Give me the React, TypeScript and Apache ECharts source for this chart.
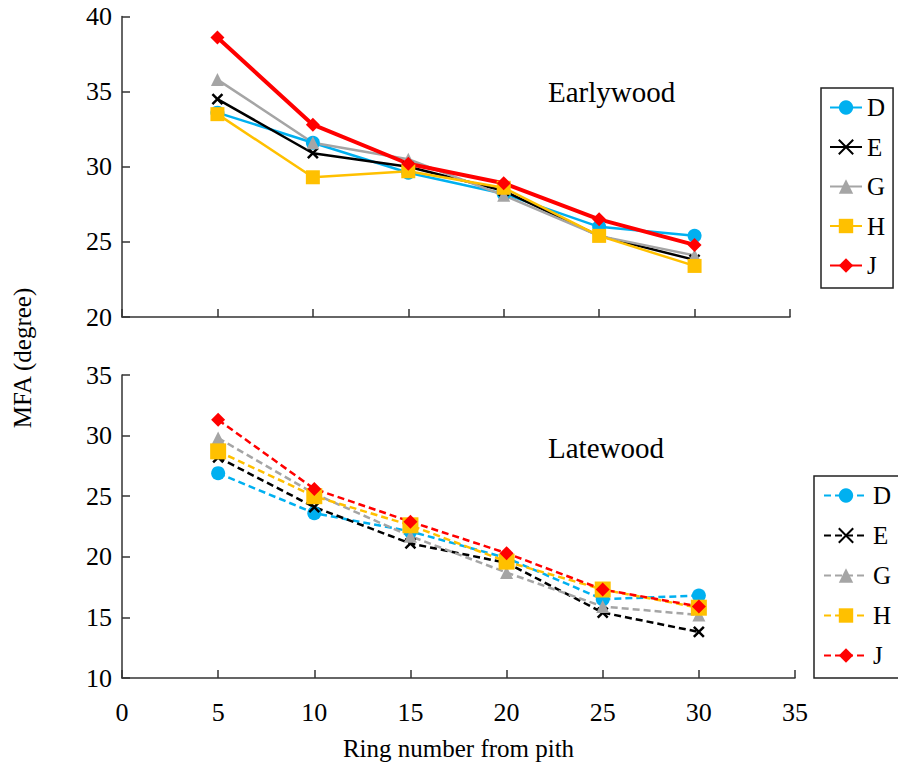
import React, { useEffect, useRef } from "react";
import * as echarts from "echarts";

const ringNumbers = [5, 10, 15, 20, 25, 30];
const seriesNames = ["D", "E", "G", "H", "J"];

const earlyD = [33.6, 31.6, 29.6, 28.2, 26.0, 25.4];
const earlyE = [34.5, 30.9, 30.0, 28.4, 25.4, 23.8];
const earlyG = [35.8, 31.6, 30.5, 28.1, 25.4, 24.1];
const earlyH = [33.5, 29.3, 29.7, 28.6, 25.4, 23.4];
const earlyJ = [38.6, 32.8, 30.2, 28.9, 26.5, 24.8];

const lateD = [26.9, 23.6, 22.1, 19.9, 16.5, 16.8];
const lateE = [28.2, 24.1, 21.1, 19.5, 15.4, 13.8];
const lateG = [29.8, 25.2, 21.7, 18.7, 15.9, 15.2];
const lateH = [28.7, 25.0, 22.6, 19.6, 17.3, 15.8];
const lateJ = [31.3, 25.6, 22.9, 20.3, 17.3, 15.9];

const FONT = "'Liberation Serif', 'Times New Roman', serif";
const colors: Record<string, string> = {
  D: "#00B0F0",
  E: "#000000",
  G: "#A5A5A5",
  H: "#FFC000",
  J: "#FF0000",
};
const symbols: Record<string, string> = {
  D: "circle",
  E: "path://M0,0L10,10M10,0L0,10",
  G: "triangle",
  H: "rect",
  J: "diamond",
};
const symbolSizes: Record<string, number> = { D: 14, E: 10, G: 13, H: 14, J: 14 };

export default function App() {
  const ref = useRef<HTMLDivElement>(null);
  useEffect(() => {
    if (!ref.current) return;
    const chart = echarts.init(ref.current, undefined, { renderer: "svg" });
    const early = [earlyD, earlyE, earlyG, earlyH, earlyJ];
    const late = [lateD, lateE, lateG, lateH, lateJ];

    const mk = (name: string, vals: number[], gi: number, dashed: boolean) => {
      const c = colors[name];
      const isE = name === "E";
      return {
        type: "line",
        name: dashed ? name + " " : name,
        xAxisIndex: gi,
        yAxisIndex: gi,
        data: ringNumbers.map((x, i) => [x, vals[i]]),
        symbol: symbols[name],
        symbolSize: dashed && name === "H" ? 16 : symbolSizes[name],
        showSymbol: true,
        lineStyle: {
          color: c,
          width: !dashed && name === "J" ? 4 : 2.5,
          type: dashed ? [7, 4] : "solid",
        },
        itemStyle: {
          color: c,
          borderColor: c,
          borderWidth: isE ? 2.5 : 0,
        },
        emphasis: { disabled: true },
      };
    };

    const series: any[] = [];
    seriesNames.forEach((n, i) => series.push(mk(n, early[i], 0, false)));
    seriesNames.forEach((n, i) => series.push(mk(n, late[i], 1, true)));

    const axisLine = { show: true, lineStyle: { color: "#333", width: 1.5 } };
    const axisTick = { show: true, inside: true, length: 8, lineStyle: { color: "#333", width: 1.5 } };
    const label = { color: "#000", fontFamily: FONT, fontSize: 26 };

    const legendBase = {
      orient: "vertical",
      backgroundColor: "#fff",
      borderColor: "#222",
      borderWidth: 1.5,
      borderRadius: 0,
      itemHeight: 18,
      itemGap: 14.5,
      textStyle: { color: "#000", fontFamily: FONT, fontSize: 25, lineHeight: 24 },
      selectedMode: false,
    };

    chart.setOption({
      animation: false,
      grid: [
        { left: 122, top: 16.5, right: 108, height: 300.5 },
        { left: 122, top: 375, right: 103, height: 307 },
      ],
      xAxis: [
        {
          gridIndex: 0,
          type: "value",
          min: 0,
          max: 35,
          interval: 5,
          axisLine,
          axisTick,
          axisLabel: { show: false },
          splitLine: { show: false },
        },
        {
          gridIndex: 1,
          type: "value",
          min: 0,
          max: 35,
          interval: 5,
          axisLine,
          axisTick,
          axisLabel: { ...label, margin: 21 },
          splitLine: { show: false },
          name: "Ring number from pith",
          nameLocation: "middle",
          nameGap: 58,
          nameTextStyle: { color: "#000", fontFamily: FONT, fontSize: 25 },
        },
      ],
      yAxis: [
        {
          gridIndex: 0,
          type: "value",
          min: 20,
          max: 40,
          interval: 5,
          axisLine,
          axisTick,
          axisLabel: { ...label, margin: 10 },
          splitLine: { show: false },
        },
        {
          gridIndex: 1,
          type: "value",
          min: 10,
          max: 35,
          interval: 5,
          axisLine,
          axisTick,
          axisLabel: { ...label, margin: 10 },
          splitLine: { show: false },
        },
      ],
      legend: [
        {
          ...legendBase,
          data: seriesNames,
          left: 821,
          top: 88,
          itemWidth: 32,
          padding: [7, 8, 10, 8],
        },
        {
          ...legendBase,
          data: seriesNames.map((n) => n + " "),
          left: 814,
          top: 476,
          itemWidth: 44,
          itemGap: 15,
          padding: [7, 8, 10, 9],
          formatter: (n: string) => n.trim(),
        },
      ],
      graphic: [
        {
          type: "text",
          x: 548,
          y: 92,
          style: { text: "Earlywood", fontFamily: FONT, fontSize: 29, fill: "#000", verticalAlign: "middle", align: "left" },
        },
        {
          type: "text",
          x: 548,
          y: 448,
          style: { text: "Latewood", fontFamily: FONT, fontSize: 29, fill: "#000", verticalAlign: "middle", align: "left" },
        },
        {
          type: "text",
          x: 22,
          y: 358,
          rotation: Math.PI / 2,
          style: { text: "MFA (degree)", fontFamily: FONT, fontSize: 25, fill: "#000", verticalAlign: "middle", align: "center" },
        },
      ],
      series,
    });
    return () => chart.dispose();
  }, []);
  return (
    <div
      ref={ref}
      style={{ position: "fixed", left: 0, top: 0, width: 898, height: 762, background: "#fff" }}
    />
  );
}
